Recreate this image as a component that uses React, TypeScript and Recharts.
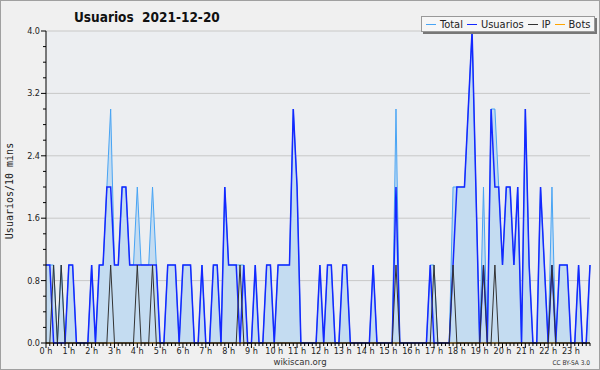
import React from 'react';
import { ComposedChart, Area, Line, XAxis, YAxis, CartesianGrid } from 'recharts';

// one value per 10 minutes, 144 slots for the day
const TOTAL = [
  1, 1, 1, 0, 1, 0, 1, 1, 0, 0, 0, 0,
  1, 0, 1, 1, 2, 3, 1, 1, 2, 2, 1, 1,
  2, 1, 1, 1, 2, 1, 0, 0, 1, 1, 1, 0,
  1, 1, 1, 0, 0, 1, 0, 0, 1, 1, 0, 2,
  1, 1, 1, 1, 1, 0, 0, 1, 0, 0, 1, 1,
  0, 1, 1, 1, 1, 3, 2, 0, 0, 0, 0, 0,
  1, 0, 1, 1, 0, 0, 1, 1, 0, 0, 0, 0,
  0, 0, 1, 0, 0, 0, 0, 0, 3, 0, 0, 0,
  0, 0, 0, 0, 0, 1, 1, 0, 0, 0, 0, 2,
  2, 2, 2, 3, 4, 2, 0, 2, 0, 3, 3, 2,
  1, 2, 2, 1, 2, 0, 3, 1, 0, 0, 2, 1,
  0, 2, 0, 1, 1, 1, 0, 0, 1, 0, 0, 1,
];

const USUARIOS = [
  1, 1, 0, 0, 0, 0, 1, 1, 0, 0, 0, 0,
  1, 0, 1, 1, 2, 2, 1, 1, 2, 2, 1, 1,
  1, 1, 1, 1, 1, 1, 0, 0, 1, 1, 1, 0,
  1, 1, 1, 0, 0, 1, 0, 0, 1, 1, 0, 2,
  1, 1, 1, 0, 1, 0, 0, 1, 0, 0, 1, 1,
  0, 1, 1, 1, 1, 3, 2, 0, 0, 0, 0, 0,
  1, 0, 1, 1, 0, 0, 1, 1, 0, 0, 0, 0,
  0, 0, 1, 0, 0, 0, 0, 0, 2, 0, 0, 0,
  0, 0, 0, 0, 0, 1, 0, 0, 0, 0, 0, 1,
  2, 2, 2, 3, 4, 2, 0, 1, 0, 3, 2, 2,
  1, 2, 2, 1, 2, 0, 3, 1, 0, 0, 2, 1,
  0, 1, 0, 1, 1, 1, 0, 0, 1, 0, 0, 1,
];

const IP = [
  0, 0, 1, 0, 1, 0, 0, 0, 0, 0, 0, 0,
  0, 0, 0, 0, 0, 1, 0, 0, 0, 0, 0, 0,
  1, 0, 0, 0, 1, 0, 0, 0, 0, 0, 0, 0,
  0, 0, 0, 0, 0, 0, 0, 0, 0, 0, 0, 0,
  0, 0, 0, 1, 0, 0, 0, 0, 0, 0, 0, 0,
  0, 0, 0, 0, 0, 0, 0, 0, 0, 0, 0, 0,
  0, 0, 0, 0, 0, 0, 0, 0, 0, 0, 0, 0,
  0, 0, 0, 0, 0, 0, 0, 0, 1, 0, 0, 0,
  0, 0, 0, 0, 0, 0, 1, 0, 0, 0, 0, 1,
  0, 0, 0, 0, 0, 0, 0, 1, 0, 0, 1, 0,
  0, 0, 0, 0, 0, 0, 0, 0, 0, 0, 0, 0,
  0, 1, 0, 0, 0, 0, 0, 0, 0, 0, 0, 0,
];

const BOTS = [
  0, 0, 0, 0, 0, 0, 0, 0, 0, 0, 0, 0,
  0, 0, 0, 0, 0, 0, 0, 0, 0, 0, 0, 0,
  0, 0, 0, 0, 0, 0, 0, 0, 0, 0, 0, 0,
  0, 0, 0, 0, 0, 0, 0, 0, 0, 0, 0, 0,
  0, 0, 0, 0, 0, 0, 0, 0, 0, 0, 0, 0,
  0, 0, 0, 0, 0, 0, 0, 0, 0, 0, 0, 0,
  0, 0, 0, 0, 0, 0, 0, 0, 0, 0, 0, 0,
  0, 0, 0, 0, 0, 0, 0, 0, 0, 0, 0, 0,
  0, 0, 0, 0, 0, 0, 0, 0, 0, 0, 0, 0,
  0, 0, 0, 0, 0, 0, 0, 0, 0, 0, 0, 0,
  0, 0, 0, 0, 0, 0, 0, 0, 0, 0, 0, 0,
  0, 0, 0, 0, 0, 0, 0, 0, 0, 0, 0, 0,
];

const HOUR_LABELS = [
  '0 h', '1 h', '2 h', '3 h', '4 h', '5 h', '6 h', '7 h',
  '8 h', '9 h', '10 h', '11 h', '12 h', '13 h', '14 h', '15 h',
  '16 h', '17 h', '18 h', '19 h', '20 h', '21 h', '22 h', '23 h',
];

const Y_TICKS = [0, 0.2, 0.4, 0.6, 0.8, 1.0, 1.2, 1.4, 1.6, 1.8, 2.0, 2.2, 2.4, 2.6, 2.8, 3.0, 3.2, 3.4, 3.6, 3.8, 4.0];
const Y_LABELS = [0, 0.8, 1.6, 2.4, 3.2, 4.0];

const SERIES = [
  { name: 'Total', color: '#48a4f4' },
  { name: 'Usuarios', color: '#1428ff' },
  { name: 'IP', color: '#333333' },
  { name: 'Bots', color: '#ffa500' },
];

const data = TOTAL.map((t, i) => ({
  slot: i,
  total: t,
  usuarios: USUARIOS[i],
  ip: IP[i],
  bots: BOTS[i],
}));

const slots = data.map((d) => d.slot);

const FONT = '"DejaVu Sans Condensed", "DejaVu Sans", sans-serif';

const XTick = (props: any) => {
  const { x, y, payload } = props;
  const v = payload.value;
  const hour = v % 6 === 0;
  return (
    <g>
      <line x1={x} y1={y} x2={x} y2={y + (hour ? 5 : 3)} stroke="#000" />
      {hour && (
        <text x={x} y={y + 11} textAnchor="middle" fontSize={9} fontFamily={FONT} fill="#222">
          {HOUR_LABELS[v / 6]}
        </text>
      )}
    </g>
  );
};

const YTick = (props: any) => {
  const { x, y, payload } = props;
  const v = payload.value;
  const major = Y_LABELS.some((l) => Math.abs(l - v) < 1e-6);
  return (
    <g>
      <line x1={x - (major ? 5 : 3)} y1={y} x2={x} y2={y} stroke="#000" />
      {major && (
        <text x={x - 6} y={y + 3} textAnchor="end" fontSize={9} fontFamily={FONT} fill="#222">
          {v.toFixed(1)}
        </text>
      )}
    </g>
  );
};

export default function App() {
  return (
    <div style={{ position: 'relative', width: 600, height: 370, background: '#f0f0f0', overflow: 'hidden' }}>
      <style>{'body{margin:0}'}</style>
      <div style={{ position: 'absolute', left: 0, top: 0 }}>
        <ComposedChart width={600} height={370} data={data} margin={{ top: 31, right: 10, bottom: 0, left: 0 }}>
          <CartesianGrid
            vertical={false}
            horizontalValues={Y_LABELS}
            stroke="#c8c8c8"
            fill="#eceef1"
            fillOpacity={1}
          />
          <XAxis
            dataKey="slot"
            type="number"
            domain={[0, 143]}
            ticks={slots}
            interval={0}
            height={27}
            tickSize={0}
            tickMargin={0}
            tick={<XTick />}
            axisLine={{ stroke: '#000' }}
            tickLine={false}
          />
          <YAxis
            type="number"
            domain={[0, 4]}
            ticks={Y_TICKS}
            interval={0}
            width={46}
            tickSize={0}
            tickMargin={0}
            tick={<YTick />}
            axisLine={{ stroke: '#000' }}
            tickLine={false}
          />
          <Area
            type="linear"
            dataKey="total"
            stroke="#48a4f4"
            strokeWidth={1}
            fill="#c4dcf1"
            fillOpacity={1}
            dot={false}
            activeDot={false}
            isAnimationActive={false}
          />
          <Line type="linear" dataKey="bots" stroke="#ffa500" strokeWidth={1} dot={false} activeDot={false} isAnimationActive={false} />
          <Line type="linear" dataKey="usuarios" stroke="#1428ff" strokeWidth={1.5} dot={false} activeDot={false} isAnimationActive={false} />
          <Line type="linear" dataKey="ip" stroke="#333333" strokeWidth={1} dot={false} activeDot={false} isAnimationActive={false} />
        </ComposedChart>
      </div>

      <div style={{ position: 'absolute', left: 74, top: 9, fontFamily: FONT, fontWeight: 'bold', fontSize: 13.5, color: '#111', whiteSpace: 'pre' }}>
        {'Usuarios  2021-12-20'}
      </div>

      <div
        style={{
          position: 'absolute',
          left: 421,
          top: 16,
          height: 14,
          padding: '0 4px',
          display: 'flex',
          alignItems: 'center',
          gap: 4,
          background: '#f6f6f6',
          border: '1px solid #999',
          boxShadow: '2px 2px 0 #777',
          fontFamily: FONT,
          fontSize: 11,
          color: '#222',
          whiteSpace: 'nowrap',
        }}
      >
        {SERIES.map((s) => (
          <span key={s.name} style={{ display: 'flex', alignItems: 'center', gap: 4 }}>
            <span style={{ display: 'inline-block', width: 10, height: 1, background: s.color }} />
            {s.name}
          </span>
        ))}
      </div>

      <div
        style={{
          position: 'absolute',
          left: 9,
          top: 191,
          transform: 'translate(-50%, -50%) rotate(-90deg)',
          fontFamily: '"DejaVu Sans Mono", monospace',
          fontSize: 10,
          color: '#222',
          whiteSpace: 'nowrap',
        }}
      >
        Usuarios/10 mins
      </div>

      <div style={{ position: 'absolute', left: 0, width: 600, top: 356, textAlign: 'center', fontFamily: FONT, fontSize: 9.5, lineHeight: '11px', color: '#333' }}>
        wikiscan.org
      </div>
      <div style={{ position: 'absolute', right: 10, top: 359, fontFamily: FONT, fontSize: 6.5, lineHeight: '8px', color: '#333' }}>
        CC BY-SA 3.0
      </div>

      <div style={{ position: 'absolute', inset: 0, border: '1px solid #a0a0a0', pointerEvents: 'none' }} />
    </div>
  );
}
